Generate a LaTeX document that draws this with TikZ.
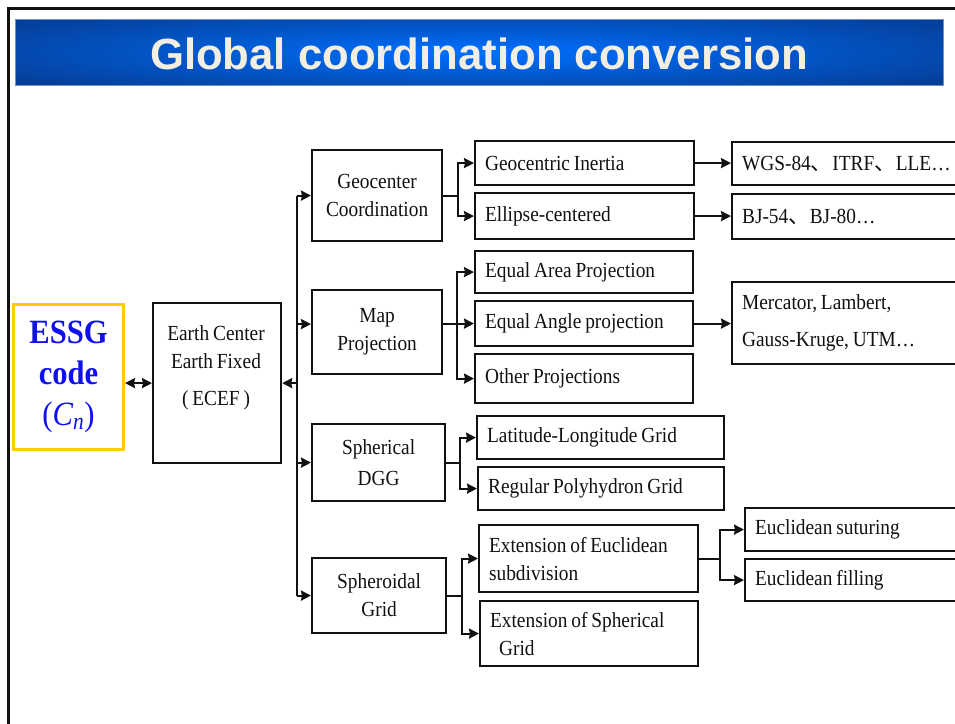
\documentclass[tikz,border=0pt]{standalone}
\usepackage{fontspec}
\setmainfont{Liberation Serif}[FakeStretch=0.9,WordSpace=0.8]
\newfontfamily\titlefont{Liberation Sans}
\newfontfamily\cjk{Noto Sans CJK SC}
\usetikzlibrary{arrows.meta}
\newcommand{\nsp}{\spaceskip=0pt\xspaceskip=0pt\relax}
\definecolor{navy}{HTML}{06307A}
\definecolor{brightblue}{HTML}{0070FF}
\definecolor{titletext}{HTML}{F2EEE2}
\definecolor{essgblue}{HTML}{1010EE}
\definecolor{essgyellow}{HTML}{FFCC00}
\definecolor{ink}{HTML}{111111}
\definecolor{bannerline}{HTML}{7090C8}
\begin{document}
\begin{tikzpicture}[x=1pt,y=-1pt,
  box/.style={draw=ink, line width=2.2pt, inner sep=0pt, anchor=north west, align=center,
              font=\fontsize{21.5}{28}\selectfont, text=ink},
  lbox/.style={box, align=left, inner xsep=10pt},
  ln/.style={draw=ink, line width=2.2pt},
  arr/.style={ln, -{Stealth[length=10pt,width=10pt,inset=1pt]}},
  dbl/.style={ln, {Stealth[length=10pt,width=10pt,inset=1pt]}-{Stealth[length=10pt,width=10pt,inset=1pt]}}]
\clip (0,0) rectangle (955,723);
\fill[white] (0,0) rectangle (955,723);
% slide frame
\draw[line width=2.5pt, ink] (8.5,760) -- (8.5,8.5) -- (1000,8.5);
% banner
\begin{scope}
  \clip (15,19) rectangle (943,85);
  \shade[inner color=brightblue, outer color=navy] (479,52) ellipse (760 and 62);
\end{scope}
\draw[bannerline, line width=0.8pt] (15,19) rectangle (943,85);
\node[text=titletext, font=\titlefont\bfseries\fontsize{43.7}{50}\selectfont] (title) at (479,54) {Global coordination conversion};

% left part
\node[box, minimum width=110pt, minimum height=145pt, draw=essgyellow, line width=3pt,
      text=essgblue, font=\bfseries\fontsize{34}{41}\selectfont] (essg) at (12,303)
      {ESSG\\code\\{\mdseries(\textit{C}\textsubscript{\textit{n}})}};
\node[box, minimum width=128pt, minimum height=160pt] (ecef) at (152,302) {};
\node[text=ink, align=center, font=\fontsize{21.5}{28}\selectfont] (eceft) at (216,368)
      {Earth Center\\Earth Fixed\\[9pt]( ECEF )};

% level 2
\node[box, minimum width=130pt, minimum height=91pt] (geo) at (311,149) {Geocenter\\Coordination};
\node[box, minimum width=130pt, minimum height=84pt] (map) at (311,289) {Map\\Projection};
\node[box, minimum width=133pt, minimum height=77pt] (dgg) at (311,423) {Spherical\\[3pt]DGG};
\node[box, minimum width=134pt, minimum height=75pt] (sphd) at (311,557) {Spheroidal\\Grid};

% level 3
\node[lbox, minimum width=219pt, minimum height=44pt, text width=199pt] (gi) at (474,140) {\nsp Geocentric Inertia};
\node[lbox, minimum width=219pt, minimum height=46pt, text width=199pt] (ec) at (474,192) {\nsp Ellipse-centered};
\node[lbox, minimum width=218pt, minimum height=42pt, text width=198pt] (ea) at (474,250) {\nsp Equal Area Projection};
\node[lbox, minimum width=218pt, minimum height=45pt, text width=198pt] (eang) at (474,300) {\nsp Equal Angle projection};
\node[lbox, minimum width=218pt, minimum height=49pt, text width=198pt] (op) at (474,353) {\nsp Other Projections};
\node[lbox, minimum width=247pt, minimum height=43pt, text width=227pt] (ll) at (476,415) {\nsp Latitude-Longitude Grid};
\node[lbox, minimum width=246pt, minimum height=43pt, text width=226pt] (rp) at (477,466) {\nsp Regular Polyhydron Grid};
\node[lbox, minimum width=219pt, minimum height=67pt, text width=199pt] (ee) at (478,524) {\nsp Extension of Euclidean\\subdivision};
\node[lbox, minimum width=218pt, minimum height=65pt, text width=198pt] (es) at (479,600) {\nsp Extension of Spherical\\\hspace*{9pt}Grid};

% level 4
\node[lbox, minimum width=260pt, minimum height=43pt, text width=240pt] (wgs) at (731,141) {\nsp WGS-84{\cjk 、}ITRF{\cjk 、}LLE…};
\node[lbox, minimum width=260pt, minimum height=45pt, text width=240pt] (bj) at (731,193) {\nsp BJ-54{\cjk 、}BJ-80…};
\node[lbox, minimum width=260pt, minimum height=82pt, text width=240pt, font=\fontsize{21.5}{37}\selectfont] (merc) at (731,281) {\nsp Mercator, Lambert,\\Gauss-Kruge, UTM…};
\node[lbox, minimum width=260pt, minimum height=43pt, text width=240pt] (sut) at (744,507) {\nsp Euclidean suturing};
\node[lbox, minimum width=260pt, minimum height=42pt, text width=240pt] (fil) at (744,558) {\nsp Euclidean filling};

% helper coordinates
\coordinate (busx) at (297,0);
\coordinate (bx1) at (458,0);
\coordinate (bx2) at (457,0);
\coordinate (bx3) at (460,0);
\coordinate (bx4) at (462,0);
\coordinate (bx5) at (720,0);
\coordinate (mapw) at ([yshift=8pt]map.west);
\coordinate (mape) at ([yshift=8pt]map.east);

% ESSG <-> ECEF
\draw[dbl] (ecef.west -| essg.east) -- (ecef.west);
% bus
\draw[ln] (geo.west -| busx) -- (sphd.west -| busx);
\draw[arr] (ecef.east -| busx) -- (ecef.east);
\draw[arr] (geo.west -| busx) -- (geo.west);
\draw[arr] (mapw -| busx) -- (mapw);
\draw[arr] (dgg.west -| busx) -- (dgg.west);
\draw[arr] (sphd.west -| busx) -- (sphd.west);

% geocenter branch
\draw[ln] (geo.east) -- (geo.east -| bx1);
\draw[arr] (geo.east -| bx1) |- (gi.west);
\draw[arr] (geo.east -| bx1) |- (ec.west);
% map branch
\draw[ln] (mape) -- (mape -| bx2);
\draw[arr] (mape -| bx2) |- (ea.west);
\draw[arr] (mape -| bx2) |- (eang.west);
\draw[arr] (mape -| bx2) |- (op.west);
% dgg branch
\draw[ln] (dgg.east) -- (dgg.east -| bx3);
\draw[arr] (dgg.east -| bx3) |- (ll.west);
\draw[arr] (dgg.east -| bx3) |- (rp.west);
% spheroidal branch
\draw[ln] (sphd.east) -- (sphd.east -| bx4);
\draw[arr] (sphd.east -| bx4) |- (ee.west);
\draw[arr] (sphd.east -| bx4) |- (es.west);
% euclidean branch
\draw[ln] (ee.east) -- (ee.east -| bx5);
\draw[arr] (ee.east -| bx5) |- (sut.west);
\draw[arr] (ee.east -| bx5) |- (fil.west);
% level 3 -> level 4
\draw[arr] (gi.east) -- (gi.east -| wgs.west);
\draw[arr] (ec.east) -- (ec.east -| bj.west);
\draw[arr] (eang.east) -- (eang.east -| merc.west);
\end{tikzpicture}
\end{document}
